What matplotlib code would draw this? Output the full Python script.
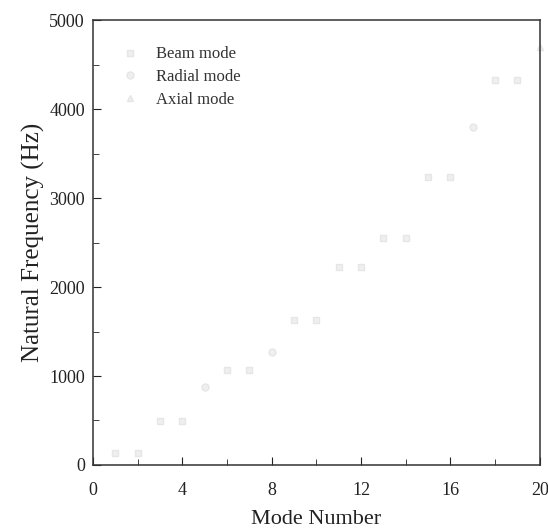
import matplotlib
matplotlib.use("Agg")
import matplotlib.pyplot as plt
from matplotlib.ticker import MultipleLocator

plt.rcParams["font.family"] = ["Liberation Serif", "DejaVu Serif"]

# mode number / natural frequency (Hz)
beam_modes = [1, 2, 3, 4, 6, 7, 9, 10, 11, 12, 13, 14, 15, 16, 18, 19]
beam_freq  = [130, 130, 494, 494, 1067, 1067, 1630, 1630, 2225, 2225,
              2550, 2550, 3236, 3236, 4326, 4326]
radial_modes = [5, 8, 17]
radial_freq  = [880, 1270, 3800]
axial_modes = [20]
axial_freq  = [4700]

fig = plt.figure(figsize=(5.48, 5.32), dpi=100)
ax = fig.add_axes([0.170, 0.126, 0.815, 0.836])

mk = dict(ms=5, mfc="#efefef", mec="#e6e6e6", ls="none", clip_on=False)
ax.plot(beam_modes, beam_freq, "s", label="Beam mode", **mk)
ax.plot(radial_modes, radial_freq, "o", label="Radial mode", **mk)
ax.plot(axial_modes, axial_freq, "^", label="Axial mode", **mk)

ax.set_xlim(0, 20)
ax.set_ylim(0, 5000)
ax.xaxis.set_major_locator(MultipleLocator(4))
ax.xaxis.set_minor_locator(MultipleLocator(2))
ax.yaxis.set_major_locator(MultipleLocator(1000))
ax.yaxis.set_minor_locator(MultipleLocator(500))
ax.tick_params(which="both", direction="in", top=False, right=False,
               labelsize=13, colors="#222222")
ax.tick_params(axis="x", which="major", pad=12)
ax.tick_params(axis="y", which="major", pad=6)
ax.tick_params(which="major", length=6)
ax.tick_params(which="minor", length=4)
for s in ax.spines.values():
    s.set_color("#333333")
    s.set_linewidth(1.1)

ax.set_xlabel("Mode Number", fontsize=16, color="#222222", labelpad=8)
ax.set_ylabel("Natural Frequency (Hz)", fontsize=18, color="#222222", labelpad=3)

ax.legend(loc="upper left", bbox_to_anchor=(0.012, 0.975), frameon=False,
          fontsize=12, handletextpad=0.55, labelspacing=0.4,
          labelcolor="#333333")

fig.savefig("out.png", dpi=100)
